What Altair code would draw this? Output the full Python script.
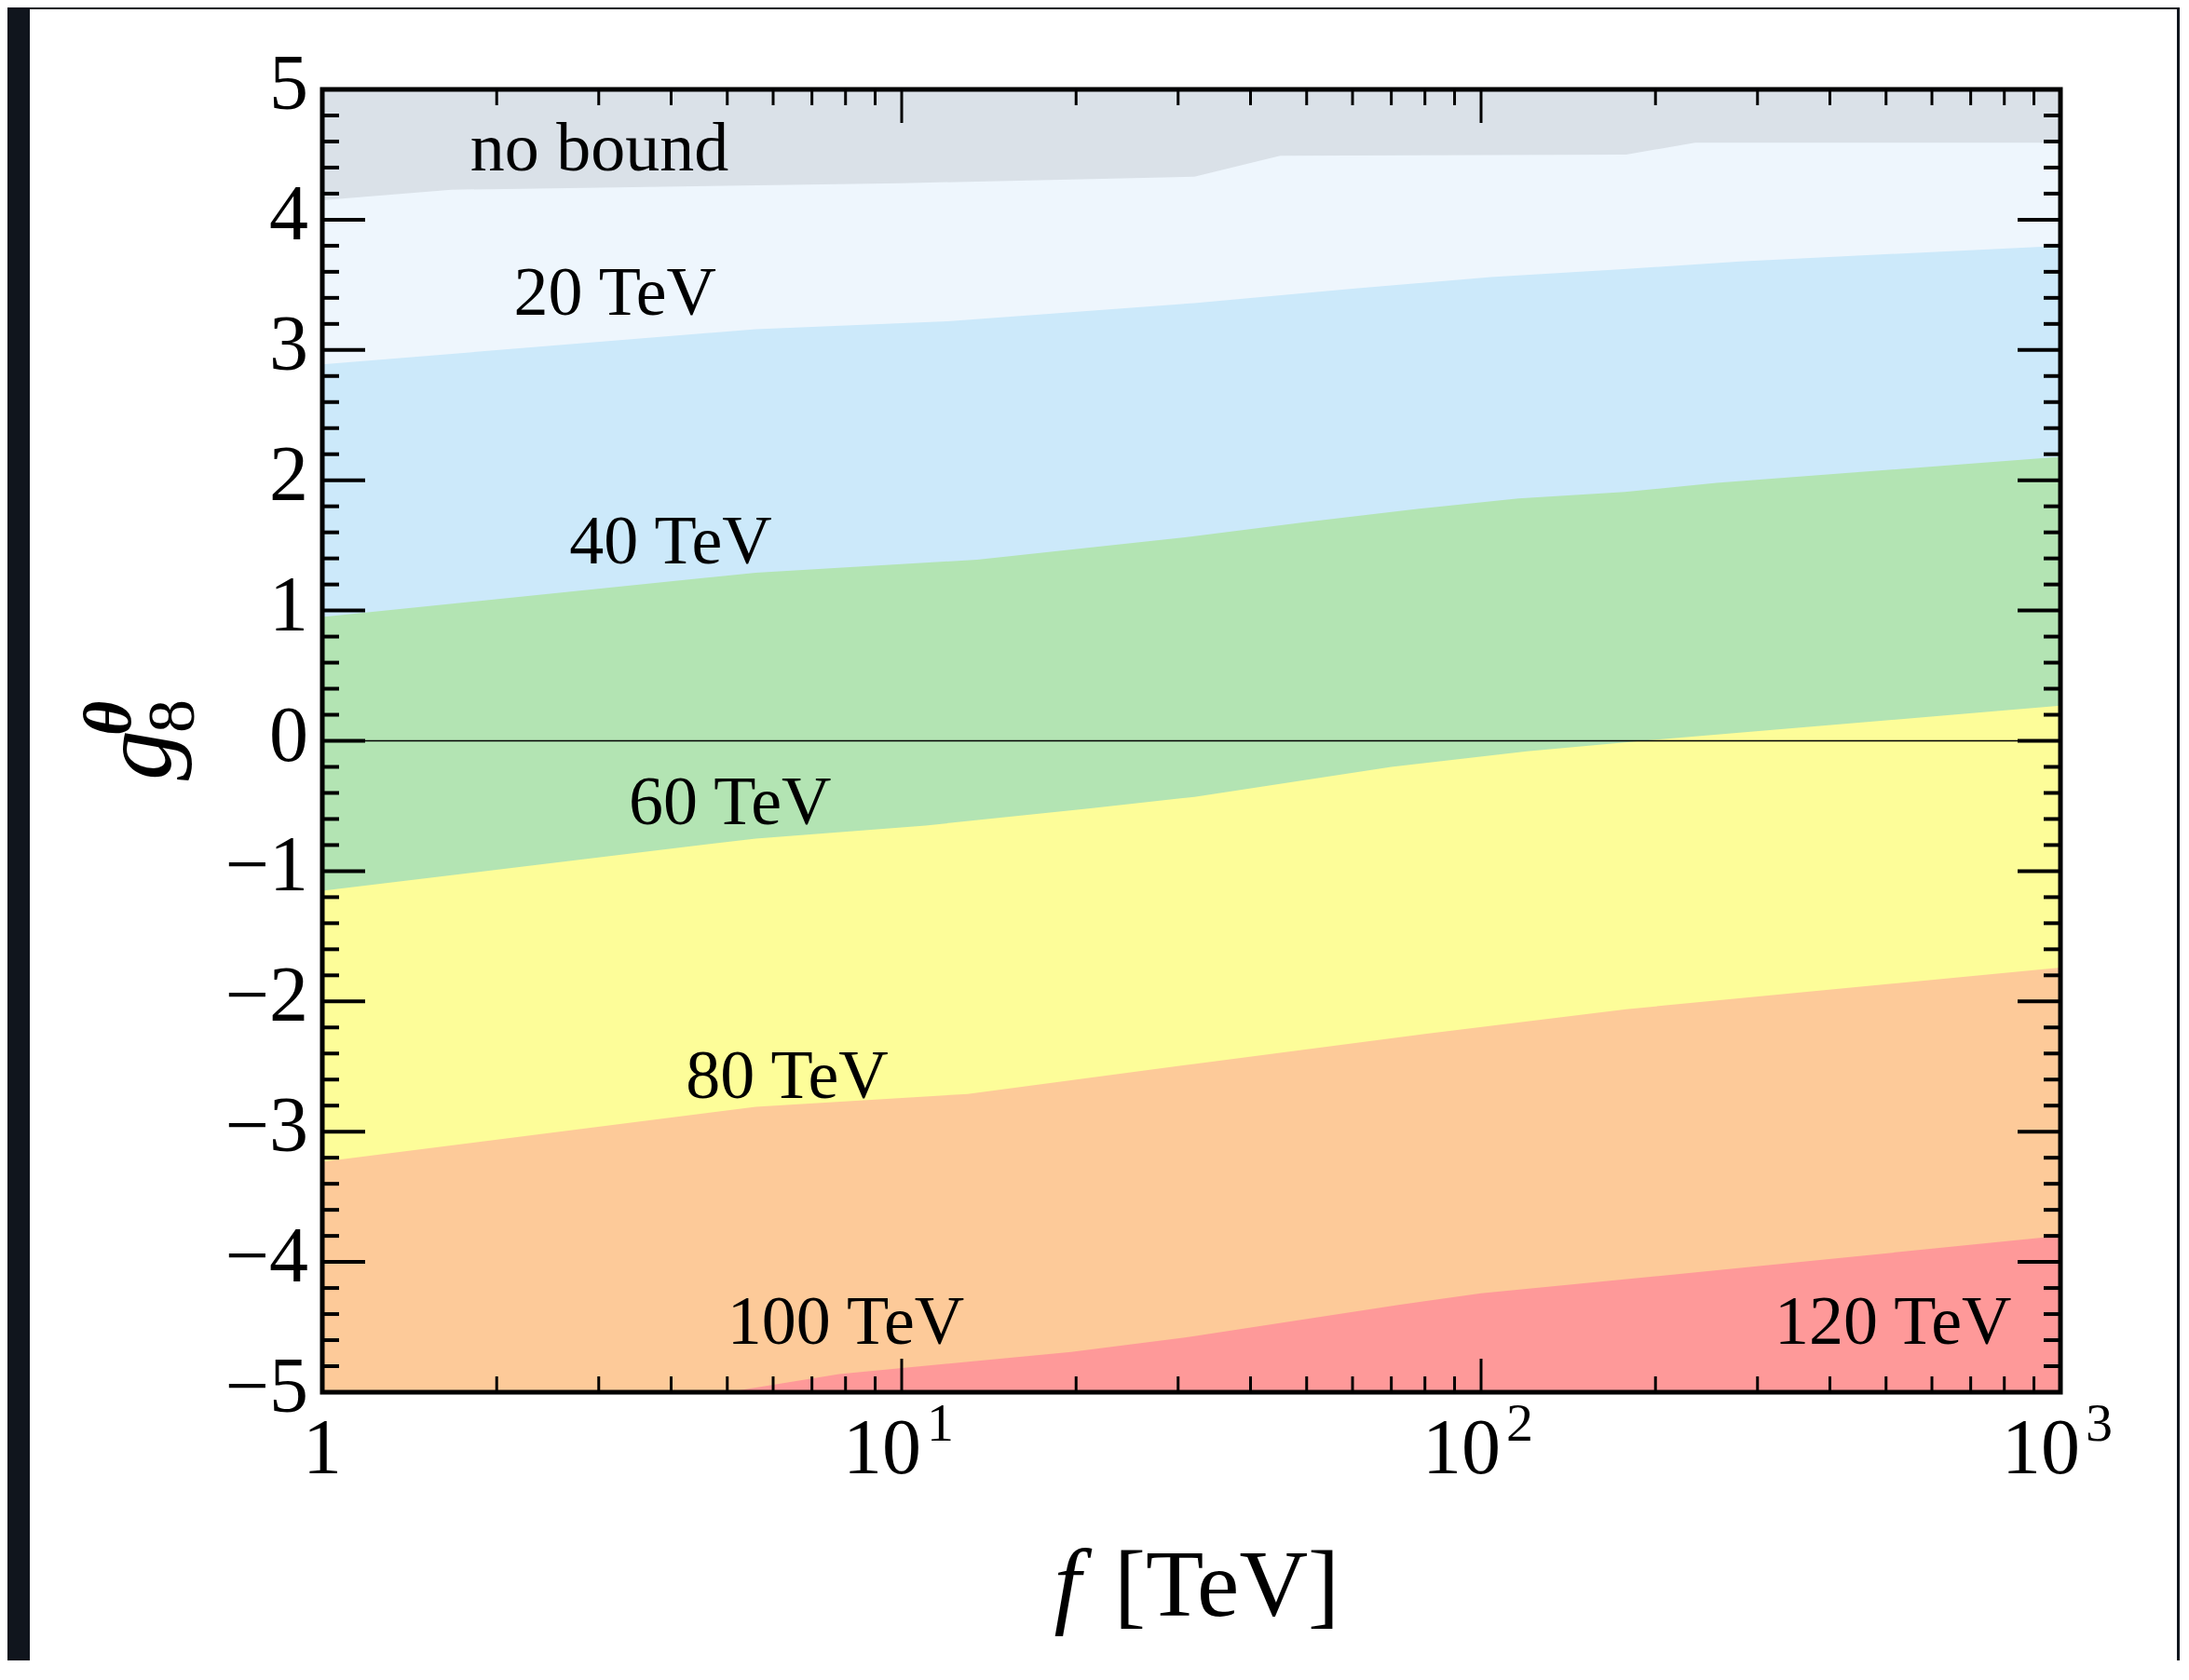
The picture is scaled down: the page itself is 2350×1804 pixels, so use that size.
import altair as alt
import pandas as pd

# ---------------- data ----------------
band_names = ["no bound", "20 TeV", "40 TeV", "60 TeV", "80 TeV", "100 TeV", "120 TeV"]
band_colors = ["#dae1e8", "#eef6fd", "#cce9fa", "#b3e4b3", "#fdfd99", "#fdca99", "#fe9999"]

# upper boundary of each coloured region (f in TeV, g8^theta)
nobound_f = [1, 1000]
nobound_g = [5, 5]
b20_f = [1, 1.67, 10, 32, 45, 178, 234, 1000]
b20_g = [4.15, 4.23, 4.28, 4.33, 4.49, 4.50, 4.59, 4.59]
b40_f = [1, 5.6, 12, 32, 60, 104, 176, 280, 1000]
b40_g = [2.89, 3.16, 3.22, 3.36, 3.47, 3.56, 3.62, 3.68, 3.80]
b60_f = [1, 5.6, 13.5, 32, 50, 74, 116, 177, 255, 1000]
b60_g = [0.95, 1.29, 1.39, 1.57, 1.68, 1.77, 1.86, 1.91, 1.98, 2.18]
b80_f = [1, 5.6, 11, 21, 32, 70, 120, 190, 1000]
b80_g = [-1.15, -0.75, -0.65, -0.52, -0.43, -0.20, -0.08, 0.0, 0.27]
b100_f = [1, 5.6, 13, 32, 80, 178, 1000]
b100_g = [-3.23, -2.81, -2.71, -2.48, -2.25, -2.06, -1.74]
b120_f = [5.0, 7.8, 19.6, 32, 72, 100, 200, 1000]
b120_g = [-5.0, -4.86, -4.69, -4.57, -4.33, -4.24, -4.11, -3.80]

label_text = ["no bound", "20 TeV", "40 TeV", "60 TeV", "80 TeV", "100 TeV", "120 TeV"]
label_f = [1.80, 2.14, 2.67, 3.38, 4.24, 5.0, 321]
label_g = [4.38, 3.27, 1.36, -0.64, -2.74, -4.63, -4.63]

x_major = [1, 10, 100, 1000]
x_first_label = "1"
x_decade_base = ["10", "10", "10"]
x_decade_exp = ["1", "2", "3"]
x_minor = [2, 3, 4, 5, 6, 7, 8, 9, 20, 30, 40, 50, 60, 70, 80, 90,
           200, 300, 400, 500, 600, 700, 800, 900]
y_major = [-5, -4, -3, -2, -1, 0, 1, 2, 3, 4, 5]
y_labels = ["\u22125", "\u22124", "\u22123", "\u22122", "\u22121", "0", "1", "2", "3", "4", "5"]
y_minor = [v / 5 for v in range(-25, 26) if v % 5 != 0]
zero_line = [0]

# ---------------- layout / style ----------------
W, H = 1866, 1399
FONT = "Liberation Serif"
xs = alt.Scale(type="log", domain=[1, 1000], nice=False)
ys = alt.Scale(domain=[-5, 5], nice=False, zero=False)
one = pd.DataFrame({"k": [0]})

layers = []

# white panel on dark page
layers.append(alt.Chart(one).mark_rect(color="white").encode(
    x=alt.value(-314), x2=alt.value(1991), y=alt.value(-86), y2=alt.value(1700)))

bands = [(nobound_f, nobound_g), (b20_f, b20_g), (b40_f, b40_g), (b60_f, b60_g),
         (b80_f, b80_g), (b100_f, b100_g), (b120_f, b120_g)]
for (fs, gs), name, col in zip(bands, band_names, band_colors):
    df = pd.DataFrame({"f": fs, "g": gs, "band": name})
    layers.append(alt.Chart(df).mark_area(color=col, opacity=1, interpolate="linear").encode(
        x=alt.X("f:Q", scale=xs, axis=None),
        y=alt.Y("g:Q", scale=ys, axis=None),
        y2=alt.datum(-5),
    ))

# zero line
layers.append(alt.Chart(pd.DataFrame({"g": zero_line})).mark_rule(color="black", strokeWidth=1.4).encode(
    y=alt.Y("g:Q", scale=ys, axis=None)))


def yticks(vals, length, width, right=False):
    x0, x1 = (W - length, W) if right else (0, length)
    return alt.Chart(pd.DataFrame({"v": vals})).mark_rule(color="black", strokeWidth=width).encode(
        y=alt.Y("v:Q", scale=ys, axis=None), x=alt.value(x0), x2=alt.value(x1))


def xticks(vals, length, width, top=False):
    y0, y1 = (0, length) if top else (H - length, H)
    return alt.Chart(pd.DataFrame({"v": vals})).mark_rule(color="black", strokeWidth=width).encode(
        x=alt.X("v:Q", scale=xs, axis=None), y=alt.value(y0), y2=alt.value(y1))


layers += [
    yticks(y_major, 46, 4), yticks(y_minor, 18, 4),
    yticks(y_major, 46, 4, right=True), yticks(y_minor, 18, 4, right=True),
    xticks(x_major, 36, 3), xticks(x_minor, 17, 3),
    xticks(x_major, 36, 3, top=True), xticks(x_minor, 17, 3, top=True),
]

# frame
layers.append(alt.Chart(one).mark_rect(filled=False, color="black", strokeWidth=5).encode(
    x=alt.value(0), x2=alt.value(W), y=alt.value(0), y2=alt.value(H)))

# x tick labels: "1", then 10 with superscript exponents
layers.append(alt.Chart(pd.DataFrame({"v": x_major[:1], "t": [x_first_label]})).mark_text(
    font=FONT, fontSize=84, align="center", baseline="alphabetic", color="black").encode(
    x=alt.X("v:Q", scale=xs, axis=None), y=alt.value(H + 87), text="t:N"))
dec_df = pd.DataFrame({"v": x_major[1:], "b": x_decade_base, "e": x_decade_exp})
layers.append(alt.Chart(dec_df).mark_text(
    font=FONT, fontSize=84, align="right", baseline="alphabetic", color="black", dx=21).encode(
    x=alt.X("v:Q", scale=xs, axis=None), y=alt.value(H + 87), text="b:N"))
layers.append(alt.Chart(dec_df).mark_text(
    font=FONT, fontSize=58, align="left", baseline="alphabetic", color="black", dx=27).encode(
    x=alt.X("v:Q", scale=xs, axis=None), y=alt.value(H + 52), text="e:N"))

# y tick labels
yl_df = pd.DataFrame({"v": y_major, "t": y_labels})
layers.append(alt.Chart(yl_df).mark_text(font=FONT, fontSize=84, align="right",
                                         baseline="alphabetic", color="black", dy=21).encode(
    y=alt.Y("v:Q", scale=ys, axis=None), x=alt.value(-15), text="t:N"))

# region labels
lab_df = pd.DataFrame({"t": label_text, "f": label_f, "g": label_g})
layers.append(alt.Chart(lab_df).mark_text(font=FONT, fontSize=74, align="left",
                                          baseline="alphabetic", color="black").encode(
    x=alt.X("f:Q", scale=xs, axis=None), y=alt.Y("g:Q", scale=ys, axis=None), text="t:N"))

# axis titles
def title_text(txt, x, y, size, angle=0, style="normal", weight="normal", align="left"):
    return alt.Chart(one).mark_text(text=txt, font=FONT, fontSize=size, fontStyle=style,
                                    fontWeight=weight, angle=angle, align=align,
                                    baseline="alphabetic", color="black").encode(
        x=alt.value(x), y=alt.value(y))


layers += [
    title_text("f", 800, 1639, 104, style="italic", align="center"),
    title_text("[TeV]", 971, 1639, 102, align="center"),
    title_text("g", -163, 742, 108, angle=270, style="italic"),
    title_text("8", -138, 691, 72, angle=270),
    title_text("\u03b8", -206, 694, 72, angle=270, style="italic", weight="bold"),
]

chart = alt.layer(*layers).properties(
    width=W, height=H,
    autosize=alt.AutoSizeParams(type="none"),
    padding={"left": 338, "top": 88, "right": 128, "bottom": 288},
).configure(background="#10151d").configure_view(strokeWidth=0)

chart.save("out.html", embed_options={"renderer": "svg", "actions": False})
